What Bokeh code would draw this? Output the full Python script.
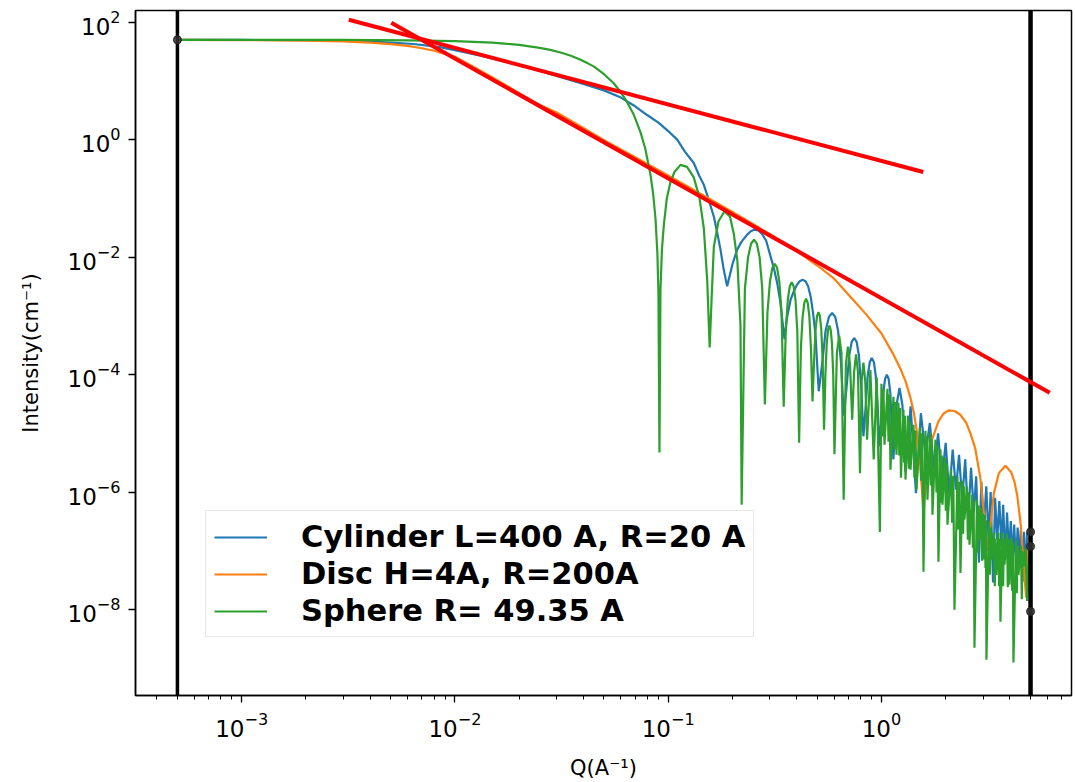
from bokeh.plotting import figure
from bokeh.models import Span, Legend, LegendItem, FixedTicker, Range1d
from bokeh.embed import file_html
from bokeh.resources import INLINE

# ---------------- data ----------------
cyl_q = [0.0005, 0.001, 0.002, 0.003, 0.004, 0.005, 0.0064, 0.0085, 0.01, 0.0132,
         0.017, 0.0226, 0.03, 0.04, 0.05, 0.06, 0.07, 0.08, 0.09, 0.1,
         0.1102, 0.12, 0.1318, 0.14, 0.1469, 0.155, 0.1637, 0.17, 0.1759, 0.182,
         0.189, 0.2, 0.2106, 0.22, 0.2346, 0.244, 0.254, 0.265, 0.275, 0.288,
         0.302, 0.313, 0.325, 0.335, 0.351, 0.36, 0.375, 0.388, 0.40, 0.414,
         0.427, 0.44, 0.453, 0.466, 0.478, 0.49, 0.508,
         0.528, 0.547, 0.567, 0.587, 0.607, 0.626, 0.646, 0.666,
         0.686, 0.706, 0.725, 0.745, 0.765, 0.784, 0.804, 0.823,
         0.843, 0.862, 0.882, 0.90, 0.921, 0.94, 0.96, 0.98,
         1.02, 1.04, 1.06, 1.08, 1.10, 1.137,
         1.176, 1.215, 1.254, 1.294,
         1.37, 1.451, 1.53, 1.608, 1.686, 1.765, 1.843, 1.92, 2.0, 2.08,
         2.157, 2.236, 2.31, 2.39, 2.47, 2.55, 2.63, 2.71, 2.78, 2.865,
         2.94, 3.02, 3.1, 3.18, 3.25, 3.335, 3.41, 3.49, 3.57, 3.65,
         3.72, 3.805, 3.88, 3.96, 4.04, 4.12, 4.19, 4.275, 4.35, 4.43,
         4.5, 4.59, 4.66, 4.745, 4.82, 5.0]
cyl_I = [50, 49.8, 49.2, 48.2, 46.8, 45, 42.5, 37.5, 33.5, 27,
         21.5, 16.6, 12.2, 8.9, 6.9, 5.2, 3.7, 2.6, 1.95, 1.4,
         1.0, 0.62, 0.40, 0.24, 0.17, 0.094, 0.049, 0.0254, 0.0134, 0.0062,
         0.0032, 0.0075, 0.0134, 0.018, 0.0241, 0.0275, 0.0294, 0.0285, 0.025, 0.019,
         0.0103, 0.0065, 0.0035, 0.0018, 4e-4, 9e-4, 0.0019, 0.0026, 0.0033, 0.0039,
         0.0041, 0.0039, 0.0032, 0.0021, 0.0011, 5e-4, 5.2e-5,
         1.6e-4, 5.6e-4, 9.6e-4, 1.12e-3, 9.6e-4, 5.6e-4, 1.6e-4, 2e-5,
         6e-5, 2.1e-4, 3.6e-4, 4.2e-4, 3.6e-4, 2.1e-4, 6e-5, 8.9e-6,
         2.8e-5, 9.6e-5, 1.64e-4, 1.92e-4, 1.64e-4, 9.6e-5, 2.8e-5, 6e-6,
         5e-5, 8.5e-5, 1.0e-4, 8.5e-5, 5e-5, 3.6e-6,
         3e-5, 5.9e-5, 3e-5, 2.2e-6,
         2.88e-5, 9.6e-7, 2.2e-5, 4.4e-6, 1.5e-5, 2.4e-6, 1.0e-5, 1.6e-6, 6.9e-6, 9.1e-7,
         5.3e-6, 1.1e-6, 4.3e-6, 7.4e-7, 3.6e-6, 3.4e-7, 2.6e-6, 4.5e-7, 1.85e-6, 6.3e-8,
         1.5e-6, 2.5e-7, 1.25e-6, 1.5e-7, 1.0e-6, 2.9e-8, 8.0e-7, 1.55e-7, 7.0e-7, 1.2e-7,
         6.1e-7, 7.1e-8, 4.5e-7, 9e-8, 3.2e-7, 6e-8, 2.8e-7, 5.8e-8, 2.5e-7, 6e-8,
         2.3e-7, 3e-8, 2.1e-7, 4e-8, 2.0e-7, 9.3e-9]

disc_q = [0.0005, 0.001, 0.002, 0.003, 0.004, 0.005, 0.006, 0.007, 0.008, 0.01,
          0.012, 0.015, 0.02, 0.025, 0.03, 0.04, 0.05, 0.07, 0.1, 0.15,
          0.2, 0.3, 0.4, 0.5, 0.6, 0.716, 0.85, 1.0, 1.13, 1.228,
          1.3, 1.368, 1.42, 1.459, 1.51, 1.571, 1.65, 1.729, 1.85, 1.95,
          2.068, 2.2, 2.35, 2.5, 2.613, 2.75, 2.91, 3.02, 3.13, 3.25,
          3.363, 3.55, 3.81, 4.05, 4.2, 4.33, 4.5, 4.65, 4.77, 4.88, 5.0]
disc_I = [50, 49.6, 48.5, 47.1, 45, 42.3, 39.5, 36, 32.6, 25.7,
          18, 11.5, 6.2, 3.9, 2.9, 1.58, 0.98, 0.5, 0.245, 0.107,
          0.059, 0.0246, 0.0127, 0.0072, 0.0043, 0.0021, 0.00105, 5.0e-4, 2.3e-4, 1.25e-4,
          7.5e-5, 4.0e-5, 2.2e-5, 1.2e-5, 4e-6, 5e-7, 2.5e-6, 8e-6, 1.6e-5, 2.15e-5,
          2.46e-5, 2.4e-5, 2.05e-5, 1.5e-5, 1.0e-5, 5.6e-6, 1.7e-6, 4.4e-7, 1.0e-7, 2.9e-7,
          9.5e-7, 2.1e-6, 2.8e-6, 2.2e-6, 1.5e-6, 8.8e-7, 2.7e-7, 5e-8, 1.6e-8, 1.2e-7, 2.1e-7]

sph_q = [0.0005, 0.001, 0.003, 0.006, 0.01, 0.015, 0.02, 0.025, 0.028, 0.0313,
         0.035, 0.0388, 0.042, 0.0449, 0.05, 0.0554, 0.06, 0.0643, 0.069, 0.0742,
         0.078, 0.0826, 0.085, 0.0872, 0.089, 0.090, 0.091, 0.092, 0.0935, 0.0954,
         0.0985, 0.1025, 0.107, 0.1142, 0.1225, 0.1318, 0.14, 0.1469, 0.1524, 0.1565,
         0.16, 0.1637, 0.172, 0.1837, 0.195, 0.2032, 0.211, 0.2183, 0.221,
         0.2289, 0.2368, 0.2446, 0.2525, 0.2604, 0.2683, 0.2761, 0.284,
         0.292, 0.300, 0.308, 0.316, 0.324, 0.332, 0.340, 0.348,
         0.3559, 0.3638, 0.3716, 0.3795, 0.3874, 0.3953, 0.4031, 0.411,
         0.419, 0.427, 0.435, 0.443, 0.451, 0.459, 0.467, 0.475,
         0.4829, 0.4908, 0.4986, 0.5065, 0.5144, 0.5223, 0.5301, 0.538,
         0.546, 0.554, 0.562, 0.570, 0.578, 0.586, 0.594, 0.602,
         0.6178, 0.6335, 0.6493, 0.665,
         0.681, 0.696, 0.712, 0.729,
         0.744, 0.760, 0.776, 0.793,
         0.808, 0.823, 0.839, 0.856,
         0.887, 0.92, 0.950, 0.983,
         1.0, 1.011, 1.022, 1.033,
         1.067, 1.079, 1.090, 1.102,
         1.138, 1.151, 1.163, 1.176,
         1.201, 1.212, 1.223, 1.234,
         1.268, 1.277, 1.287, 1.296,
         1.331, 1.343, 1.356, 1.368,
         1.413, 1.428, 1.444, 1.459,
         1.515, 1.535, 1.554, 1.574,
         1.608, 1.620, 1.631, 1.643,
         1.688, 1.703, 1.719, 1.734,
         1.791, 1.811, 1.830, 1.850,
         1.891, 1.905, 1.918, 1.932,
         1.985, 2.003, 2.021, 2.039,
         2.118, 2.145, 2.172, 2.199,
         2.271, 2.296, 2.321, 2.346,
         2.397, 2.414, 2.432, 2.449,
         2.517, 2.540, 2.563, 2.586,
         2.657, 2.681, 2.705, 2.729,
         2.804, 2.829, 2.855, 2.880,
         2.943, 2.964, 2.986, 3.007,
         3.056, 3.073, 3.089, 3.106,
         3.192, 3.221, 3.250, 3.279,
         3.368, 3.399, 3.429, 3.460,
         3.536, 3.562, 3.587, 3.613,
         3.692, 3.719, 3.746, 3.773,
         3.876, 3.911, 3.947, 3.982,
         4.070, 4.099, 4.128, 4.157,
         4.272, 4.311, 4.349, 4.388,
         4.508, 4.549, 4.590, 4.631,
         4.732, 4.821, 4.911, 5.0]
sph_I = [50, 50, 49.8, 49.1, 47.7, 44.8, 41, 36.6, 33.8, 30.5,
         26.8, 23, 19.9, 17.5, 13.0, 9.2, 6.4, 4.3, 2.65, 1.33,
         0.715, 0.254, 0.12, 0.045, 0.0114, 2.5e-3, 4.7e-6, 2.75e-3, 0.0137, 0.035,
         0.0995, 0.19, 0.281, 0.372, 0.344, 0.228, 0.105, 0.031, 4e-3, 2.9e-4,
         2.2e-3, 0.015, 0.0403, 0.0605, 0.0485, 0.0245, 8.7e-3, 6.7e-4, 6.1e-7,
         0.0029, 0.0099, 0.0169, 0.0198, 0.0169, 0.0099, 0.0029, 3.1e-5,
         0.00112, 0.00385, 0.0066, 0.0077, 0.0066, 0.00385, 0.00112, 2.85e-5,
         5.5e-4, 0.00188, 0.0032, 0.00375, 0.0032, 0.00188, 5.5e-4, 6.9e-6,
         2.86e-4, 9.8e-4, 1.67e-3, 1.96e-3, 1.67e-3, 9.8e-4, 2.86e-4, 3.5e-5,
         1.7e-4, 5.8e-4, 9.9e-4, 1.16e-3, 9.9e-4, 5.8e-4, 1.7e-4, 1.15e-5,
         1.0e-4, 3.4e-4, 5.8e-4, 6.8e-4, 5.8e-4, 3.4e-4, 1.0e-4, 4.4e-6,
         2.3e-4, 4.6e-4, 2.3e-4, 7.4e-7,
         1.5e-4, 3.0e-4, 1.5e-4, 1.7e-5,
         1.1e-4, 2.2e-4, 1.1e-4, 2.1e-6,
         8e-5, 1.6e-4, 8e-5, 7.8e-6,
         1.2e-4, 3.6e-6, 9e-5, 2.1e-7,
         7.0e-5, 8.8e-6, 5.6e-5, 6.4e-6,
         5.75e-5, 7.2e-6, 4.6e-5, 2.4e-6,
         4.2e-5, 5.3e-6, 3.4e-5, 4.33e-6,
         3.33e-5, 4.2e-6, 2.7e-5, 1.76e-6,
         2.53e-5, 3.2e-6, 2.0e-5, 1.63e-6,
         2.0e-5, 2.5e-6, 1.6e-5, 2.4e-6,
         1.4e-5, 1.75e-6, 1.12e-5, 1.1e-6,
         1.25e-5, 1.56e-6, 1.0e-5, 4.4e-8,
         1.11e-5, 1.39e-6, 8.9e-6, 7.4e-7,
         1.03e-5, 1.29e-6, 8.2e-6, 4.1e-7,
         7.8e-6, 9.8e-7, 6.2e-6, 6.5e-8,
         5.3e-6, 6.6e-7, 4.2e-6, 6.1e-7,
         3.85e-6, 4.8e-7, 3.1e-6, 2.79e-7,
         2.4e-6, 3.0e-7, 1.9e-6, 9.9e-9,
         1.83e-6, 2.3e-7, 1.5e-6, 4.2e-8,
         1.56e-6, 1.95e-7, 1.25e-6, 3.4e-7,
         1.24e-6, 1.55e-7, 1.0e-6, 1.27e-7,
         9.0e-7, 1.13e-7, 7.2e-7, 2.24e-9,
         7.4e-7, 9.3e-8, 5.9e-7, 1.55e-7,
         5.4e-7, 6.8e-8, 4.3e-7, 7.1e-8,
         4.1e-7, 5.1e-8, 3.3e-7, 1.4e-9,
         3.13e-7, 3.9e-8, 2.5e-7, 7.1e-8,
         2.03e-7, 2.5e-8, 1.6e-7, 3.9e-8,
         2.03e-7, 2.5e-8, 1.6e-7, 6.2e-9,
         2.03e-7, 2.5e-8, 1.6e-7, 5.8e-8,
         1.95e-7, 2.4e-8, 1.56e-7, 2.65e-8,
         1.67e-7, 2.1e-8, 1.34e-7, 1.25e-9,
         1.49e-7, 1.9e-8, 1.2e-7, 3.9e-8,
         1.22e-7, 1.5e-8, 9.8e-8, 5.4e-8,
         1.09e-7, 1.4e-8, 8.7e-8, 1.2e-7]

# hand-drawn power-law guide lines (slope -1 and slope -2)
red1_q = [3.18e-3, 1.57]
red1_I = [110, 0.281]
red2_q = [5.03e-3, 6.15]
red2_I = [97.7, 4.9e-5]

# Q-range markers and end points
q_min, q_max = 5e-4, 5.0
end_q = [5e-4, 5.0, 5.0, 5.0]
end_I = [50, 2.1e-7, 1.19e-7, 9.3e-9]

labels = ["Cylinder L=400 A, R=20 A", "Disc H=4A, R=200A", "Sphere R= 49.35 A"]
colors = ["#1f77b4", "#ff7f0e", "#2ca02c"]

x_ticks = [1e-3, 1e-2, 1e-1, 1.0]
x_minor = [m * 10.0 ** e for e in range(-4, 1) for m in range(2, 10)]
y_ticks = [1e-8, 1e-6, 1e-4, 1e-2, 1.0, 1e2]

# ---------------- figure ----------------
p = figure(width=1075, height=782, x_axis_type="log", y_axis_type="log",
           x_range=Range1d(3.18e-4, 7.78), y_range=Range1d(3.44e-10, 158),
           output_backend="svg", toolbar_location=None)
p.min_border_left = 135
p.min_border_right = 4
p.min_border_top = 10
p.min_border_bottom = 87
p.background_fill_color = "white"
p.border_fill_color = "white"
p.outline_line_color = "black"
p.outline_line_width = 1.5
p.xgrid.visible = False
p.ygrid.visible = False

p.xaxis.ticker = FixedTicker(ticks=x_ticks, minor_ticks=x_minor)
p.yaxis.ticker = FixedTicker(ticks=y_ticks, minor_ticks=[])
for ax in (p.xaxis[0], p.yaxis[0]):
    ax.axis_line_color = "black"
    ax.axis_line_width = 1.5
    ax.major_tick_in = 0
    ax.major_tick_out = 7
    ax.minor_tick_in = 0
    ax.minor_tick_out = 4
    ax.major_tick_line_width = 1.3
    ax.minor_tick_line_width = 1.0
    ax.major_tick_line_color = "black"
    ax.minor_tick_line_color = "black"
    ax.major_label_text_font = "DejaVu Sans"
    ax.major_label_text_font_size = "23px"
    ax.major_label_text_color = "black"
    ax.axis_label_text_font = "DejaVu Sans"
    ax.axis_label_text_font_size = "21px"
    ax.axis_label_text_font_style = "normal"
    ax.axis_label_text_color = "black"
p.xaxis.axis_label = "Q(A\u207b\u00b9)"
p.yaxis.axis_label = "Intensity(cm\u207b\u00b9)"
p.xaxis.major_label_standoff = 9
p.xaxis.axis_label_standoff = 16
p.yaxis.major_label_standoff = 8
p.yaxis.axis_label_standoff = 22

r_cyl = p.line(cyl_q, cyl_I, line_color=colors[0], line_width=2.2)
r_disc = p.line(disc_q, disc_I, line_color=colors[1], line_width=2.2)
r_sph = p.line(sph_q, sph_I, line_color=colors[2], line_width=2.2)

p.add_layout(Span(location=q_min, dimension="height", line_color="black", line_width=3.5))
p.add_layout(Span(location=q_max, dimension="height", line_color="black", line_width=4.5))

p.scatter(end_q, end_I, size=8, fill_color="#333333", line_color="#222222",
          fill_alpha=0.85, level="overlay")
p.line(red1_q, red1_I, line_color="#ff0000", line_width=4, level="overlay")
p.line(red2_q, red2_I, line_color="#ff0000", line_width=4, level="overlay")

legend = Legend(items=[LegendItem(label=labels[0], renderers=[r_cyl]),
                       LegendItem(label=labels[1], renderers=[r_disc]),
                       LegendItem(label=labels[2], renderers=[r_sph])],
                location=(70, 58))
legend.label_text_font = "DejaVu Sans"
legend.label_text_font_style = "bold"
legend.label_text_font_size = "30.5px"
legend.label_text_color = "black"
legend.glyph_width = 53
legend.glyph_height = 20
legend.label_standoff = 34
legend.padding = 8
legend.spacing = 2
legend.margin = 0
legend.border_line_color = "#d0d0d0"
legend.border_line_width = 1.5
legend.background_fill_color = "white"
legend.background_fill_alpha = 1.0
p.add_layout(legend)

open("out.html", "w").write(file_html(p, INLINE))
